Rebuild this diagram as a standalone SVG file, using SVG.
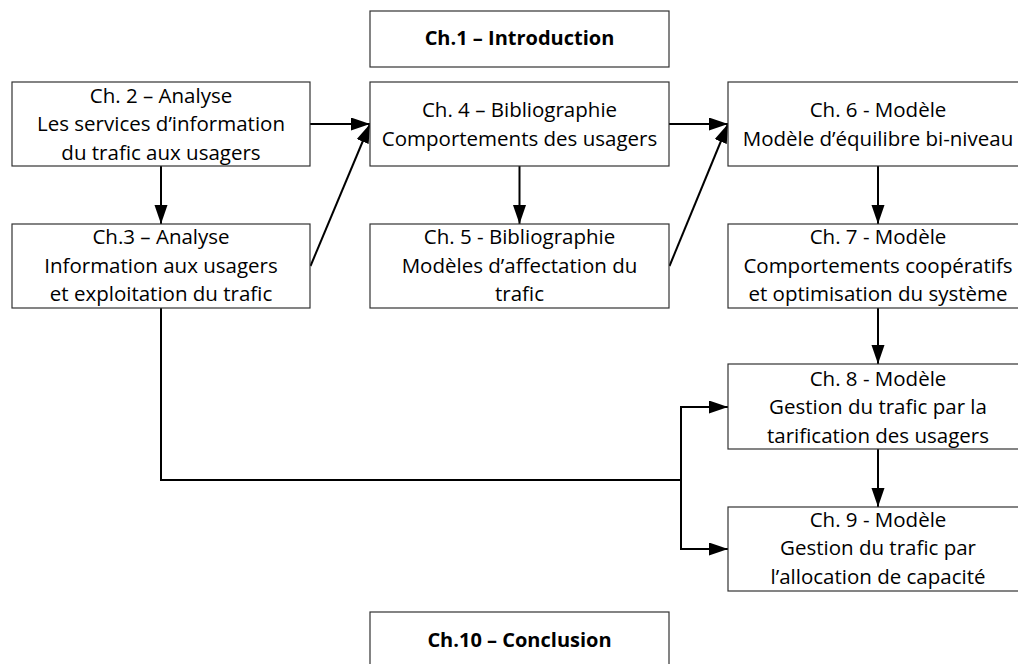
<svg xmlns="http://www.w3.org/2000/svg" width="1018" height="664" viewBox="0 0 1018 664">
<style>
.box{fill:#fff;stroke:#333;stroke-width:1.2}
.t{font-family:"Open Sans","Liberation Sans",sans-serif;font-size:20.5px;fill:#000;text-anchor:middle}
.b{font-weight:bold;font-size:20px}
.c{fill:none;stroke:#000;stroke-width:2}
</style>
<defs>
<marker id="ah" markerUnits="userSpaceOnUse" markerWidth="21" markerHeight="14" refX="19" refY="6.5" orient="auto">
<path d="M0,0 L19,6.5 L0,13 z" fill="#000"/>
</marker>
</defs>
<rect width="1018" height="664" fill="#fff"/>
<g id="connectors">
<line class="c" x1="310" y1="124" x2="370" y2="124" marker-end="url(#ah)"/>
<line class="c" x1="310.5" y1="266" x2="370" y2="124" marker-end="url(#ah)"/>
<line class="c" x1="161" y1="166" x2="161" y2="224" marker-end="url(#ah)"/>
<line class="c" x1="519.5" y1="166" x2="519.5" y2="224" marker-end="url(#ah)"/>
<line class="c" x1="669" y1="124" x2="728" y2="124" marker-end="url(#ah)"/>
<line class="c" x1="669.5" y1="266" x2="728" y2="124" marker-end="url(#ah)"/>
<line class="c" x1="878" y1="166" x2="878" y2="224" marker-end="url(#ah)"/>
<line class="c" x1="878" y1="308" x2="878" y2="364" marker-end="url(#ah)"/>
<line class="c" x1="878" y1="449" x2="878" y2="507" marker-end="url(#ah)"/>
<polyline class="c" points="161,308 161,480 681,480"/>
<polyline class="c" points="681,480 681,407 728,407" marker-end="url(#ah)"/>
<polyline class="c" points="681,480 681,549 728,549" marker-end="url(#ah)"/>
</g>
<g id="ch1">
<rect class="box" x="370" y="11" width="299" height="56"/>
<text class="t b" x="519.5" y="45">Ch.1 – Introduction</text>
</g>
<g id="ch2">
<rect class="box" x="12" y="82" width="298" height="84"/>
<text class="t" x="161" y="103">Ch. 2 – Analyse</text>
<text class="t" x="161" y="131">Les services d’information</text>
<text class="t" x="161" y="160">du trafic aux usagers</text>
</g>
<g id="ch3">
<rect class="box" x="12" y="224" width="298" height="84"/>
<text class="t" x="161" y="244">Ch.3 – Analyse</text>
<text class="t" x="161" y="273">Information aux usagers</text>
<text class="t" x="161" y="301">et exploitation du trafic</text>
</g>
<g id="ch4">
<rect class="box" x="370" y="82" width="299" height="84"/>
<text class="t" x="519.5" y="117">Ch. 4 – Bibliographie</text>
<text class="t" x="519.5" y="146">Comportements des usagers</text>
</g>
<g id="ch5">
<rect class="box" x="370" y="224" width="299" height="84"/>
<text class="t" x="519.5" y="244">Ch. 5 - Bibliographie</text>
<text class="t" x="519.5" y="273">Modèles d’affectation du</text>
<text class="t" x="519.5" y="301">trafic</text>
</g>
<g id="ch6">
<rect class="box" x="728" y="82" width="299" height="84"/>
<text class="t" x="878" y="117">Ch. 6 - Modèle</text>
<text class="t" x="878" y="146">Modèle d’équilibre bi-niveau</text>
</g>
<g id="ch7">
<rect class="box" x="728" y="224" width="299" height="84"/>
<text class="t" x="878" y="244">Ch. 7 - Modèle</text>
<text class="t" x="878" y="273">Comportements coopératifs</text>
<text class="t" x="878" y="301">et optimisation du système</text>
</g>
<g id="ch8">
<rect class="box" x="728" y="364" width="299" height="85"/>
<text class="t" x="878" y="386">Ch. 8 - Modèle</text>
<text class="t" x="878" y="414">Gestion du trafic par la</text>
<text class="t" x="878" y="443">tarification des usagers</text>
</g>
<g id="ch9">
<rect class="box" x="728" y="507" width="299" height="84"/>
<text class="t" x="878" y="527">Ch. 9 - Modèle</text>
<text class="t" x="878" y="555">Gestion du trafic par</text>
<text class="t" x="878" y="584">l’allocation de capacité</text>
</g>
<g id="ch10">
<rect class="box" x="370" y="612" width="299" height="56"/>
<text class="t b" x="519.5" y="647">Ch.10 – Conclusion</text>
</g>
</svg>
